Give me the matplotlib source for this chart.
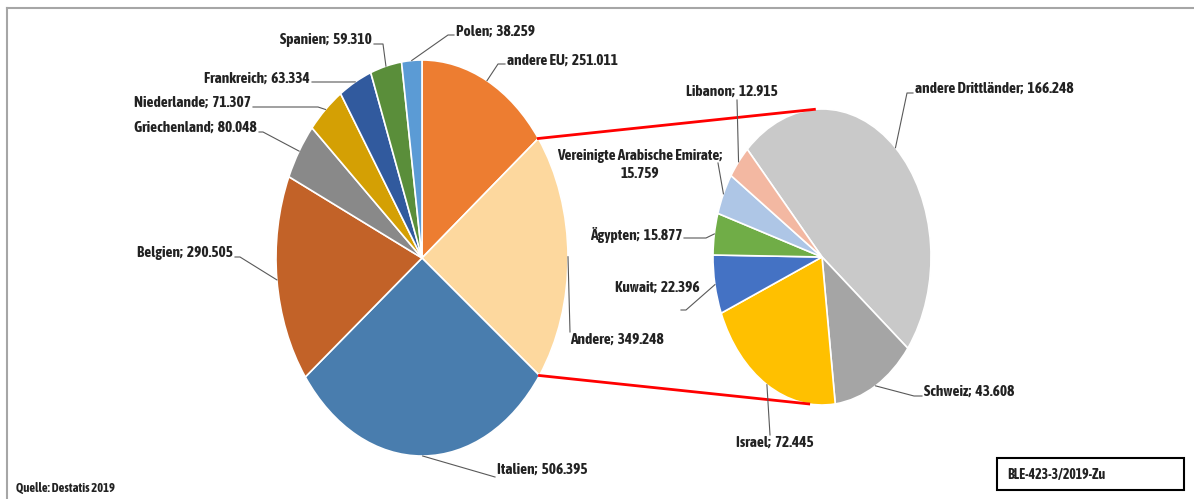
import numpy as np
import matplotlib
matplotlib.use("Agg")
import matplotlib.pyplot as plt
from matplotlib.patches import Rectangle

plt.rcParams['font.family'] = ['Asap Condensed', 'Liberation Sans', 'DejaVu Sans']

# data (values in tonnes)
left_names = ["andere EU", "Andere", "Italien", "Belgien", "Griechenland",
              "Niederlande", "Frankreich", "Spanien", "Polen"]
left_values = [251011, 349248, 506395, 290505, 80048, 71307, 63334, 59310, 38259]
left_colors = ["#ED7D31", "#FDD89E", "#497DAE", "#C26228", "#898989",
               "#D4A004", "#315A9E", "#5A8E3A", "#5B9BD5"]

right_names = ["andere Drittländer", "Schweiz", "Israel", "Kuwait", "Ägypten",
               "Vereinigte Arabische Emirate", "Libanon"]
right_values = [166248, 43608, 72445, 22396, 15877, 15759, 12915]
right_colors = ["#C9C9C9", "#A5A5A5", "#FFC000", "#4472C4", "#70AD47",
                "#AEC6E6", "#F3B8A2"]

source = "Quelle: Destatis 2019"
code = "BLE-423-3/2019-Zu"

W, H = 1194, 499
fig = plt.figure(figsize=(W / 100, H / 100), dpi=100)


def fmt(v):
    return f"{v:,}".replace(",", ".")


def pie_axes(cx, cy, rx, ry, values, colors, start):
    a = fig.add_axes([(cx - rx) / W, 1 - (cy + ry) / H, 2 * rx / W, 2 * ry / H])
    wedges, _ = a.pie(values, colors=colors, startangle=start, counterclock=False,
                      radius=1, wedgeprops=dict(edgecolor="white", linewidth=1.2))
    a.set_xlim(-1, 1)
    a.set_ylim(-1, 1)
    a.set_aspect("auto")
    a.axis("off")
    return wedges


def on_ellipse(cx, cy, rx, ry, ang):
    t = np.deg2rad(ang)
    return cx + rx * np.cos(t), cy - ry * np.sin(t)


# pie geometry in pixels (center x, center y, rx, ry)
L = (422, 258, 146, 198)
R = (822, 257, 109, 148)

lw = pie_axes(*L, left_values, left_colors, 90)
rw = pie_axes(*R, right_values, right_colors, 133.3)

ax = fig.add_axes([0, 0, 1, 1])
ax.set_xlim(0, W)
ax.set_ylim(H, 0)
ax.axis("off")

# outer frame (top and left edges visible)
ax.plot([7, W], [8, 8], color="#A6A6A6", lw=1.5)
ax.plot([7, 7], [8, H], color="#A6A6A6", lw=1.5)

# red connector lines from "Andere" wedge to second pie
andere = lw[left_names.index("Andere")]
p1 = on_ellipse(*L, andere.theta2)
p2 = on_ellipse(*L, andere.theta1)
q1 = on_ellipse(*R, 94)
q2 = on_ellipse(*R, 263)
ax.plot([p1[0], q1[0]], [p1[1], q1[1]], color="#FF0000", lw=2)
ax.plot([p2[0], q2[0]], [p2[1], q2[1]], color="#FF0000", lw=2)

# label layout: text x, y, ha, leader start, knee
layout_left = {
    "andere EU": (507, 61, "left", (505, 64), (498, 64)),
    "Andere": (570, 340, "left", (570, 332), None),
    "Italien": (497, 470, "left", (495, 477), None),
    "Belgien": (233, 253, "right", (235, 257), (240, 257)),
    "Griechenland": (257, 128, "right", (259, 132), (263, 132)),
    "Niederlande": (251, 103, "right", (253, 107), (318, 107)),
    "Frankreich": (310, 79, "right", (312, 82), (348, 82)),
    "Spanien": (372, 40, "right", (374, 44), (383, 44)),
    "Polen": (456, 32, "left", (454, 35), (448, 35)),
}
layout_right = {
    "andere Drittländer": (915, 89, "left", (913, 93), (907, 93)),
    "Schweiz": (924, 392, "left", (922, 396), (914, 396)),
    "Israel": (775, 443, "center", (770, 435), None),
    "Kuwait": (700, 288, "right", (681, 310), (686, 310)),
    "Ägypten": (682, 235, "right", (684, 238), (706, 238)),
    "Vereinigte Arabische Emirate": (640, 165, "center", (718, 163), None),
    "Libanon": (732, 92, "center", (737, 100), None),
}


def draw_labels(geom, wedges, names, values, layout):
    for w, name, v in zip(wedges, names, values):
        tx, ty, ha, s, k = layout[name]
        mid = (w.theta1 + w.theta2) / 2
        anc = on_ellipse(*geom, mid)
        pts = [s] + ([k] if k else []) + [anc]
        ax.plot([p[0] for p in pts], [p[1] for p in pts], color="#595959", lw=0.8)
        txt = f"{name};  {fmt(v)}"
        if name == "Vereinigte Arabische Emirate":
            txt = f"{name};\n{fmt(v)}"
        ax.text(tx, ty, txt, ha=ha, va="center", fontsize=11, fontweight="bold",
                color="#222222", linespacing=1.35, multialignment="center")


draw_labels(L, lw, left_names, left_values, layout_left)
draw_labels(R, rw, right_names, right_values, layout_right)

ax.text(16, 488, source, ha="left", va="center", fontsize=9, fontweight="bold",
        color="#222222")
ax.add_patch(Rectangle((997, 458), 187, 32, fill=False, edgecolor="black", lw=1.5))
ax.text(1007, 475, code, ha="left", va="center", fontsize=10, fontweight="bold",
        color="#222222")

fig.savefig("out.png", dpi=100, facecolor="white")
